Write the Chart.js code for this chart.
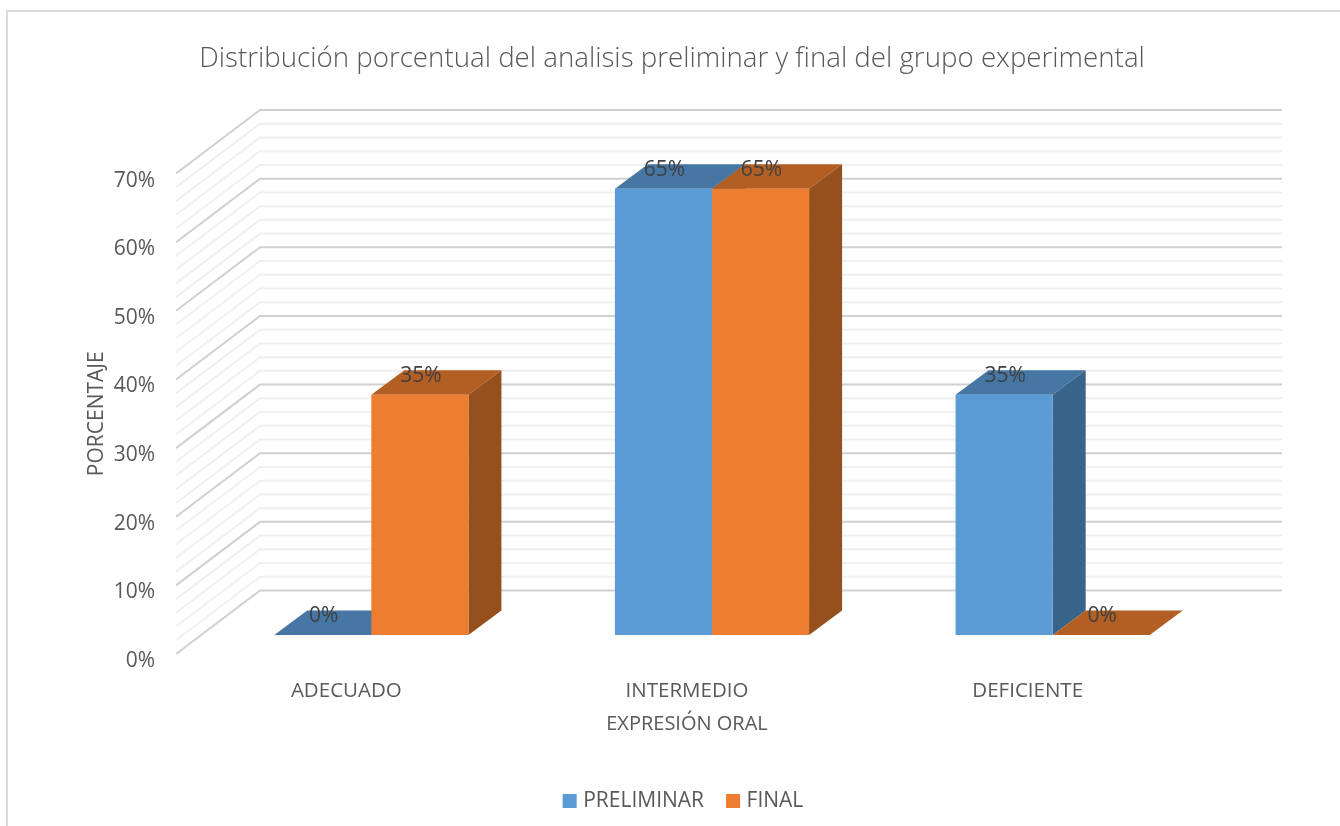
<!DOCTYPE html>
<html lang="es">
<head>
<meta charset="utf-8">
<title>Distribución porcentual</title>
<script src="https://cdn.jsdelivr.net/npm/chart.js@4"></script>
<style>
  html, body { margin: 0; padding: 0; background: #fff; }
  canvas { display: block; }
</style>
</head>
<body>
<canvas id="grafico" width="1340" height="826"></canvas>
<script>
const categorias = ['ADECUADO', 'INTERMEDIO', 'DEFICIENTE'];
const preliminar = [0, 65, 35];
const final = [35, 65, 0];
const valoresEje = [0, 10, 20, 30, 40, 50, 60, 70];

const FUENTE = '"Open Sans", "Noto Sans", sans-serif';
const GRIS_TEXTO = '#595959';

// 3D offsets
const pared = { dx: 84, dy: -63.5 };
const frente = { dx: 25, dy: -19 };
const fondo = { dx: 33, dy: -24.5 };

const colores = [
    { cara: '#5B9BD5', tapa: '#4676A3', lado: '#38648A' },
    { cara: '#ED7D31', tapa: '#B35E22', lado: '#96501D' }
];

function cuadrilatero(ctx, puntos, color) {
    ctx.fillStyle = color;
    ctx.beginPath();
    puntos.forEach((p, i) => (i ? ctx.lineTo(p[0], p[1]) : ctx.moveTo(p[0], p[1])));
    ctx.closePath();
    ctx.fill();
}

const marco = {
    id: 'marco',
    beforeDraw(chart) {
        const ctx = chart.ctx;
        ctx.save();
        ctx.fillStyle = '#fff';
        ctx.fillRect(0, 0, chart.width, chart.height);
        ctx.strokeStyle = '#dcdcdc';
        ctx.lineWidth = 2;
        ctx.beginPath();
        ctx.moveTo(7, chart.height);
        ctx.lineTo(7, 11);
        ctx.lineTo(chart.width, 11);
        ctx.stroke();
        ctx.restore();
    }
};

// title and legend are not centred on the plot in the original
const ajusteCajas = {
    id: 'ajusteCajas',
    afterLayout(chart) {
        chart.titleBlock.left += 31;
        chart.titleBlock.right += 31;
        chart.legend.left += 44;
        chart.legend.right += 44;
    }
};

const paredes = {
    id: 'paredes',
    beforeDatasetsDraw(chart) {
        const ctx = chart.ctx;
        const y = chart.scales.y;
        const x0 = chart.chartArea.left;
        const x1 = chart.chartArea.right;
        ctx.save();
        for (let v = 0; v <= 70; v += 2) {
            const mayor = v % 10 === 0;
            const py = y.getPixelForValue(v);
            ctx.strokeStyle = mayor ? '#d0d0d0' : '#f0f0f0';
            ctx.lineWidth = 2;
            ctx.beginPath();
            ctx.moveTo(x0, py);
            ctx.lineTo(x0 + pared.dx, py + pared.dy);
            ctx.lineTo(x1 + pared.dx, py + pared.dy);
            ctx.stroke();
        }
        ctx.restore();
    }
};

const barras3d = {
    id: 'barras3d',
    beforeDatasetsDraw(chart) {
        const ctx = chart.ctx;
        ctx.save();
        chart.data.datasets.forEach((ds, i) => {
            const c = colores[i];
            chart.getDatasetMeta(i).data.forEach((bar) => {
                const izq = bar.x - bar.width / 2 + frente.dx;
                const der = bar.x + bar.width / 2 + frente.dx;
                const arriba = bar.y + frente.dy;
                const abajo = bar.base + frente.dy;
                cuadrilatero(ctx, [
                    [der, arriba], [der + fondo.dx, arriba + fondo.dy],
                    [der + fondo.dx, abajo + fondo.dy], [der, abajo]
                ], c.lado);
                cuadrilatero(ctx, [
                    [izq, arriba], [der, arriba],
                    [der + fondo.dx, arriba + fondo.dy], [izq + fondo.dx, arriba + fondo.dy]
                ], c.tapa);
            });
        });
        ctx.restore();
        // the library draws the front faces, moved onto the bar plane
        ctx.save();
        ctx.translate(frente.dx, frente.dy);
    },
    afterDatasetsDraw(chart) {
        const ctx = chart.ctx;
        ctx.restore();
        ctx.save();
        ctx.fillStyle = '#404040';
        ctx.font = '21px ' + FUENTE;
        ctx.textAlign = 'center';
        ctx.textBaseline = 'middle';
        chart.data.datasets.forEach((ds, i) => {
            chart.getDatasetMeta(i).data.forEach((bar, j) => {
                ctx.fillText(ds.data[j] + '%', bar.x + frente.dx + 1, bar.y + frente.dy - 19);
            });
        });
        ctx.restore();
    }
};

new Chart(document.getElementById('grafico'), {
    type: 'bar',
    data: {
        labels: categorias,
        datasets: [
            { label: 'PRELIMINAR', data: preliminar, backgroundColor: colores[0].cara, clip: false },
            { label: 'FINAL', data: final, backgroundColor: colores[1].cara, clip: false }
        ]
    },
    options: {
        responsive: false,
        animation: false,
        devicePixelRatio: 1,
        barPercentage: 1,
        categoryPercentage: 0.57,
        layout: { padding: { left: 84, right: 142, top: 0, bottom: 4.5 } },
        plugins: {
            tooltip: { enabled: false },
            title: {
                display: true,
                text: 'Distribución porcentual del analisis preliminar y final del grupo experimental',
                color: GRIS_TEXTO,
                font: { family: FUENTE, size: 27.7, weight: '300' },
                padding: { top: 42, bottom: 98.3 }
            },
            legend: {
                position: 'bottom',
                labels: {
                    color: GRIS_TEXTO,
                    font: { family: FUENTE, size: 21 },
                    boxWidth: 6,
                    boxHeight: 6,
                    padding: 26,
                    generateLabels(chart) {
                        return Chart.defaults.plugins.legend.labels.generateLabels(chart).map((item) => {
                            item.lineWidth = 8;
                            item.strokeStyle = item.fillStyle;
                            return item;
                        });
                    }
                }
            }
        },
        scales: {
            x: {
                grid: { display: false, drawTicks: false },
                border: { display: false },
                ticks: { color: GRIS_TEXTO, font: { family: FUENTE, size: 20.5 }, padding: 25, maxRotation: 0 },
                title: {
                    display: true,
                    text: 'EXPRESIÓN ORAL',
                    color: GRIS_TEXTO,
                    font: { family: FUENTE, size: 20 },
                    padding: { top: 0, bottom: 28.5 }
                },
                afterFit(scale) { scale.height = 110.5; }
            },
            y: {
                min: 0,
                max: 70,
                grid: { display: false, drawTicks: false },
                border: { display: false },
                afterBuildTicks(scale) { scale.ticks = valoresEje.map((v) => ({ value: v })); },
                ticks: {
                    color: GRIS_TEXTO,
                    font: { family: FUENTE, size: 21 },
                    padding: 21,
                    labelOffset: 7,
                    callback: (v) => v + '%'
                },
                title: {
                    display: true,
                    text: 'PORCENTAJE',
                    color: GRIS_TEXTO,
                    font: { family: FUENTE, size: 21 },
                    padding: 0
                },
                afterFit(scale) { scale.width = 92; }
            }
        }
    },
    plugins: [marco, ajusteCajas, paredes, barras3d]
});
</script>
</body>
</html>
